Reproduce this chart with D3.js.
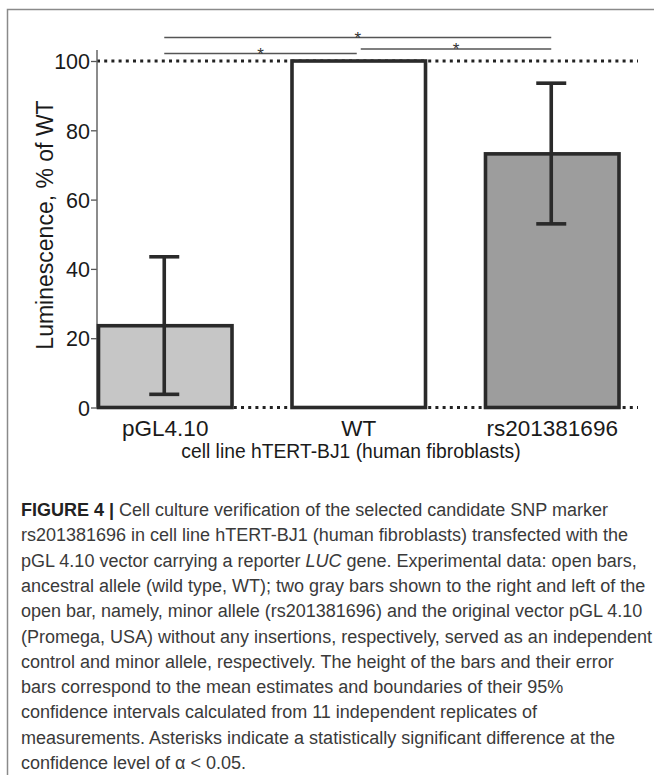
<!DOCTYPE html>
<html>
<head>
<meta charset="utf-8">
<script src="https://cdn.jsdelivr.net/npm/d3@7"></script>
<style>
  html, body { margin: 0; padding: 0; background: #ffffff; }
  svg { display: block; }
</style>
</head>
<body>
<svg id="chart" width="654" height="775"></svg>
<script>
// ---- data ----
const categories = ["pGL4.10", "WT", "rs201381696"];
const meanValues = [23.6, 100, 73.2];
const ciLow = [3.8, null, 53.0];
const ciHigh = [43.5, null, 93.6];
const barFills = ["#c6c6c6", "#ffffff", "#9d9d9d"];
const yTicks = [0, 20, 40, 60, 80, 100];
const refLines = [0, 100];
const comparisons = [["pGL4.10", "rs201381696"], ["pGL4.10", "WT"], ["WT", "rs201381696"]];
const yLabel = "Luminescence, % of WT";
const xTitle = "cell line hTERT-BJ1 (human fibroblasts)";
const captionLines = [
  [["b", "FIGURE 4 | "], ["r", "Cell culture verification of the selected candidate SNP marker"]],
  [["r", "rs201381696 in cell line hTERT-BJ1 (human fibroblasts) transfected with the"]],
  [["r", "pGL 4.10 vector carrying a reporter "], ["i", "LUC"], ["r", " gene. Experimental data: open bars,"]],
  [["r", "ancestral allele (wild type, WT); two gray bars shown to the right and left of the"]],
  [["r", "open bar, namely, minor allele (rs201381696) and the original vector pGL 4.10"]],
  [["r", "(Promega, USA) without any insertions, respectively, served as an independent"]],
  [["r", "control and minor allele, respectively. The height of the bars and their error"]],
  [["r", "bars correspond to the mean estimates and boundaries of their 95%"]],
  [["r", "confidence intervals calculated from 11 independent replicates of"]],
  [["r", "measurements. Asterisks indicate a statistically significant difference at the"]],
  [["r", "confidence level of \u03b1 < 0.05."]]
];

// ---- drawing ----
const svg = d3.select("#chart");
const font = "'Liberation Sans', Arial, sans-serif";

// frame
svg.append("path")
  .attr("d", "M7.5,775 L7.5,9.5 L654,9.5")
  .attr("fill", "none").attr("stroke", "#8a8a8a").attr("stroke-width", 1.5);

const x = d3.scaleBand().domain(categories).range([98.5, 619]).paddingInner(0.31).paddingOuter(0);
const y = d3.scaleLinear().domain([0, 100]).range([407.5, 61]);
const axisX = 97;

// dotted reference lines
svg.selectAll(".ref").data(refLines).enter().append("line")
  .attr("x1", axisX).attr("x2", 638)
  .attr("y1", d => y(d)).attr("y2", d => y(d))
  .attr("stroke", "#222").attr("stroke-width", 3.2)
  .attr("stroke-dasharray", "3 4.2");

// y axis
const yAxis = d3.axisLeft(y).tickValues(yTicks).tickSize(6).tickPadding(1);
const gy = svg.append("g").attr("transform", `translate(${axisX},0)`).call(yAxis);
gy.select(".domain").remove();
gy.selectAll(".tick line").attr("stroke", "#555").attr("stroke-width", 1.3);
gy.selectAll(".tick text").attr("font-family", font).attr("font-size", 21.5)
  .attr("fill", "#1a1a1a").attr("dy", "0.36em");
svg.append("line").attr("x1", axisX).attr("x2", axisX).attr("y1", 50).attr("y2", y(0))
  .attr("stroke", "#666").attr("stroke-width", 1.5);

// bars
svg.selectAll(".bar").data(categories).enter().append("rect")
  .attr("x", d => x(d))
  .attr("y", (d, i) => y(meanValues[i]))
  .attr("width", x.bandwidth())
  .attr("height", (d, i) => y(0) - y(meanValues[i]))
  .attr("fill", (d, i) => barFills[i])
  .attr("stroke", "#2a2a2a").attr("stroke-width", 3.6);

// error bars
const capW = 30;
categories.forEach((c, i) => {
  if (ciLow[i] == null) return;
  const cx = x(c) + x.bandwidth() / 2 - 1;
  const g = svg.append("g").attr("stroke", "#2a2a2a").attr("stroke-width", 3.6);
  g.append("line").attr("x1", cx).attr("x2", cx).attr("y1", y(ciHigh[i])).attr("y2", y(ciLow[i]));
  g.append("line").attr("x1", cx - capW / 2).attr("x2", cx + capW / 2).attr("y1", y(ciHigh[i])).attr("y2", y(ciHigh[i]));
  g.append("line").attr("x1", cx - capW / 2).attr("x2", cx + capW / 2).attr("y1", y(ciLow[i])).attr("y2", y(ciLow[i]));
});

// significance brackets
const sigY = [37.5, 53.5, 49];
comparisons.forEach((p, k) => {
  const xa = x(p[0]) + x.bandwidth() / 2 - 1 + (k === 2 ? 3 : 0);
  const xb = x(p[1]) + x.bandwidth() / 2 - 1 - (k === 1 ? 1 : 0);
  svg.append("line").attr("x1", xa).attr("x2", xb).attr("y1", sigY[k]).attr("y2", sigY[k])
    .attr("stroke", "#555").attr("stroke-width", 1.3);
  svg.append("text").attr("x", (xa + xb) / 2).attr("y", sigY[k] + 6)
    .attr("text-anchor", "middle").attr("font-family", font).attr("font-size", 17)
    .attr("fill", "#333").text("*");
});

// category labels
svg.selectAll(".cat").data(categories).enter().append("text")
  .attr("x", d => x(d) + x.bandwidth() / 2)
  .attr("y", 436)
  .attr("text-anchor", "middle").attr("font-family", font).attr("font-size", 22.5)
  .attr("fill", "#1a1a1a").text(d => d);

svg.append("text").attr("x", 351).attr("y", 458)
  .attr("text-anchor", "middle").attr("font-family", font).attr("font-size", 19.3)
  .attr("fill", "#1a1a1a").text(xTitle);

// y label
svg.append("text").attr("transform", "translate(53,225) rotate(-90)")
  .attr("text-anchor", "middle").attr("font-family", font).attr("font-size", 23)
  .attr("fill", "#1a1a1a").text(yLabel);

// caption
const cap = svg.append("g").attr("font-family", font).attr("font-size", 18).attr("fill", "#3a3a3a");
captionLines.forEach((line, i) => {
  const t = cap.append("text").attr("x", 21).attr("y", 516 + i * 25.3);
  line.forEach(seg => {
    const s = t.append("tspan").text(seg[1]);
    if (seg[0] === "b") s.attr("font-weight", "bold").attr("fill", "#222");
    if (seg[0] === "i") s.attr("font-style", "italic");
  });
});
</script>
</body>
</html>
